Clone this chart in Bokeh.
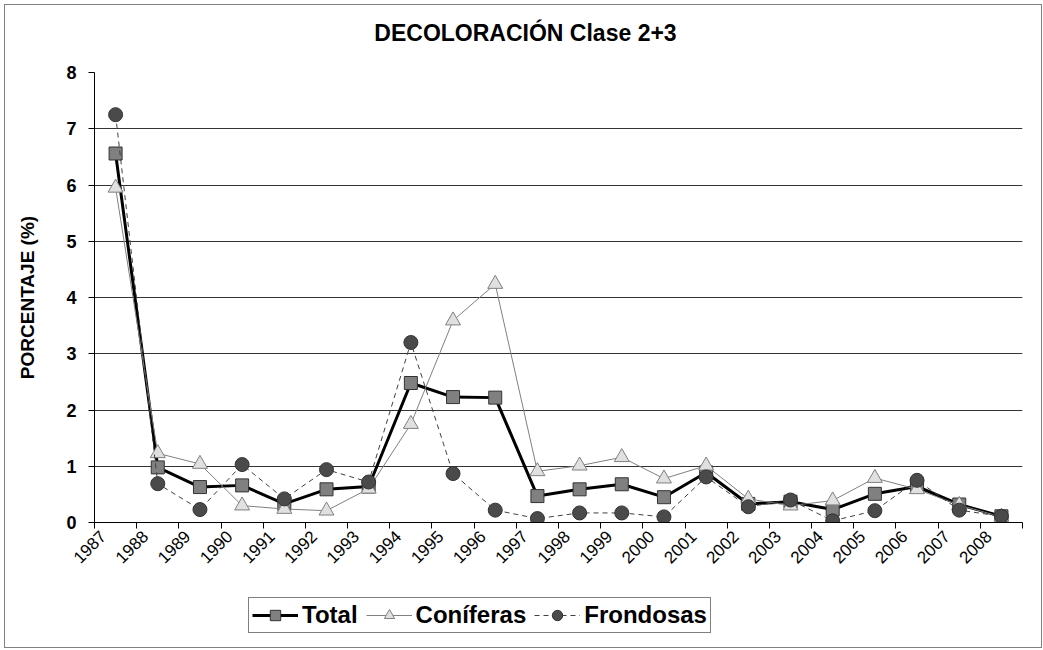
from bokeh.plotting import figure
from bokeh.layouts import column
from bokeh.models import FixedTicker, Legend, LegendItem, Label, Range1d
from bokeh.embed import file_html
from bokeh.resources import INLINE

years = ["1987", "1988", "1989", "1990", "1991", "1992", "1993", "1994", "1995", "1996", "1997",
         "1998", "1999", "2000", "2001", "2002", "2003", "2004", "2005", "2006", "2007", "2008"]
total = [6.56, 0.98, 0.63, 0.66, 0.33, 0.59, 0.64, 2.48, 2.23, 2.22, 0.47,
         0.59, 0.68, 0.45, 0.89, 0.33, 0.37, 0.23, 0.51, 0.64, 0.32, 0.11]
coniferas = [5.95, 1.23, 1.04, 0.30, 0.24, 0.21, 0.60, 1.75, 3.59, 4.24, 0.91,
             1.01, 1.16, 0.78, 1.01, 0.42, 0.30, 0.39, 0.79, 0.59, 0.31, 0.10]
frondosas = [7.25, 0.69, 0.23, 1.03, 0.42, 0.94, 0.72, 3.20, 0.87, 0.22, 0.07,
             0.17, 0.17, 0.10, 0.81, 0.28, 0.40, 0.03, 0.21, 0.75, 0.22, 0.11]
y_ticks = [0, 1, 2, 3, 4, 5, 6, 7, 8]
series_names = ["Total", "Coníferas", "Frondosas"]
title_text = "DECOLORACIÓN Clase 2+3"

FONT = "Liberation Sans"
xs = [i + 0.5 for i in range(len(years))]
label_pos = [i + 0.2 for i in range(len(years))]

STY = {
    "Total": dict(line=dict(line_color="black", line_width=3),
                  mark=dict(marker="square", size=13, fill_color="#808080", line_color="#333333")),
    "Coníferas": dict(line=dict(line_color="#808080", line_width=1),
                      mark=dict(marker="triangle", size=15, fill_color="#e0e0e0", line_color="#808080")),
    "Frondosas": dict(line=dict(line_color="#404040", line_width=1, line_dash="5 4"),
                      mark=dict(marker="circle", size=14, fill_color="#4a4a4a", line_color="#333333")),
}
LEG_SIZE = {"Total": 10, "Coníferas": 11, "Frondosas": 10}


def strip(height):
    f = figure(width=1036, height=height, output_backend="svg", toolbar_location=None,
               x_range=Range1d(0, 1), y_range=Range1d(0, 1),
               x_axis_location=None, y_axis_location=None,
               min_border=0, min_border_left=0, min_border_right=0,
               min_border_top=0, min_border_bottom=0)
    f.outline_line_color = None
    f.xgrid.visible = False
    f.ygrid.visible = False
    return f


# title strip
tf = strip(45)
tf.add_layout(Label(x=431, y=18, x_units="screen", y_units="screen", text=title_text,
                    text_align="center", text_baseline="middle", text_font=FONT,
                    text_font_size="23px", text_font_style="bold", text_color="black"))

# main chart
p = figure(width=1036, height=540, output_backend="svg", toolbar_location=None,
           x_range=Range1d(0, len(years)), y_range=Range1d(0, 8),
           min_border_left=89, min_border_right=19, min_border_top=22, min_border_bottom=68)
p.outline_line_color = None
p.background_fill_color = "white"
p.border_fill_color = "white"

# x axis: tick marks at category boundaries, labels near category centres
p.xaxis.ticker = FixedTicker(ticks=label_pos, minor_ticks=list(range(len(years) + 1)))
p.xaxis.major_label_overrides = {x: y for x, y in zip(label_pos, years)}
p.xaxis.major_tick_out = 0
p.xaxis.major_tick_in = 0
p.xaxis.minor_tick_out = 6
p.xaxis.minor_tick_in = 0
p.xaxis.minor_tick_line_color = "black"
p.xaxis.major_label_orientation = 0.785398
p.xaxis.major_label_text_font = FONT
p.xaxis.major_label_text_font_size = "17px"
p.xaxis.major_label_text_color = "black"
p.xaxis.axis_line_color = "black"
p.xgrid.visible = False

# y axis
p.yaxis.ticker = FixedTicker(ticks=y_ticks)
p.yaxis.major_tick_out = 6
p.yaxis.major_tick_in = 0
p.yaxis.minor_tick_line_color = None
p.yaxis.major_tick_line_color = "black"
p.yaxis.axis_line_color = "black"
p.yaxis.major_label_text_font = FONT
p.yaxis.major_label_text_font_size = "18px"
p.yaxis.major_label_text_font_style = "bold"
p.yaxis.major_label_text_color = "black"
p.yaxis.major_label_standoff = 12
p.yaxis.axis_label = "PORCENTAJE (%)"
p.yaxis.axis_label_text_font = FONT
p.yaxis.axis_label_text_font_size = "19px"
p.yaxis.axis_label_text_font_style = "bold"
p.yaxis.axis_label_text_color = "black"
p.yaxis.axis_label_standoff = 25
p.ygrid.grid_line_color = "#333333"
p.ygrid.grid_line_width = 1

for name, vals in zip(series_names, [total, coniferas, frondosas]):
    p.line(xs, vals, **STY[name]["line"])
    p.scatter(xs, vals, **STY[name]["mark"])

# legend strip (own figure so the legend is not clipped by the main frame)
lf = strip(57)
items = []
for name in series_names:
    lr = lf.line([-5, -4], [-5, -4], **STY[name]["line"])
    sr = lf.scatter([-5], [-5], **dict(STY[name]["mark"], size=LEG_SIZE[name]))
    items.append(LegendItem(label=name, renderers=[lr, sr]))
legend = Legend(items=items, orientation="horizontal", location=(154, 14),
                label_text_font=FONT, label_text_font_size="24px", label_text_font_style="bold",
                label_text_color="black",
                glyph_width=46, glyph_height=26, label_standoff=4, spacing=8,
                padding=3, margin=0, border_line_color="black", border_line_width=1,
                background_fill_color="white", background_fill_alpha=1)
lf.add_layout(legend)

layout = column(tf, p, lf, spacing=0)
layout.styles = {"border": "1px solid #808080", "margin-left": "4px", "margin-top": "4px"}

open("out.html", "w").write(file_html(layout, INLINE))
